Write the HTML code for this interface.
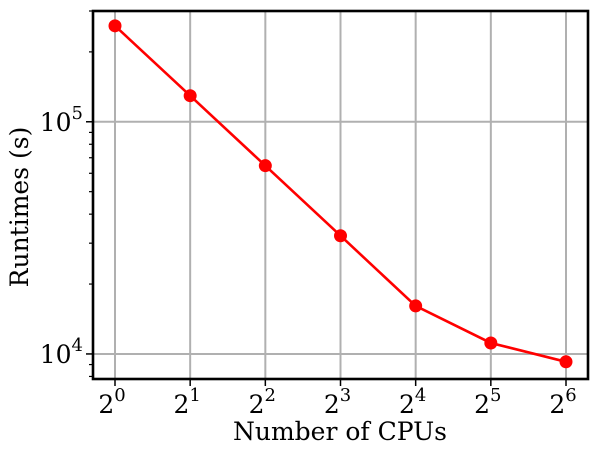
<!DOCTYPE html>
<html><head><meta charset="utf-8"><style>
body{margin:0;background:#fff;}
svg text{font-family:"DejaVu Serif","Liberation Serif",serif;fill:#000;}
</style></head><body>
<svg id="chart" width="598" height="454" xmlns="http://www.w3.org/2000/svg"></svg>
<script>
const exponents=[0,1,2,3,4,5,6];
const runtimes=[259000,129500,64700,32300,16100,11150,9250];
const yTickExps=[4,5];
const NS="http://www.w3.org/2000/svg";
const svg=document.getElementById('chart');
const L=93,R=588,T=11,B=379;
const yMinLog=Math.log10(7800),yMaxLog=Math.log10(300000);
function xs(e){return 115+(566-115)*(e-0)/6;}
function ys(v){return B-(Math.log10(v)-yMinLog)/(yMaxLog-yMinLog)*(B-T);}
function mk(tag,attrs,parent){const el=document.createElementNS(NS,tag);for(const k in attrs)el.setAttribute(k,attrs[k]);(parent||svg).appendChild(el);return el;}
exponents.forEach(e=>{const g=mk('line',{x1:xs(e),x2:xs(e),y1:T,y2:B,stroke:'#b0b0b0','stroke-width':2});

});
yTickExps.forEach(p=>{const y=ys(Math.pow(10,p));const g=mk('line',{x1:L,x2:R,y1:y,y2:y,stroke:'#b0b0b0','stroke-width':2});

});
for(let p=3;p<=5;p++)for(let m=2;m<=9;m++){const v=m*Math.pow(10,p);if(v<7800||v>300000)continue;const y=ys(v);
const t=mk('line',{x1:L-4,x2:L,y1:y,y2:y,stroke:'#000','stroke-width':1.2});

}
yTickExps.forEach(p=>{const y=ys(Math.pow(10,p));mk('line',{x1:L-7,x2:L,y1:y,y2:y,stroke:'#000','stroke-width':1.5});
const tx=mk('text',{x:L-10,y:y+9,'text-anchor':'end','font-size':25});


tx.innerHTML='10<tspan dy="-12" font-size="18">'+p+'</tspan>';});
exponents.forEach(e=>{const x=xs(e);mk('line',{x1:x,x2:x,y1:B,y2:B+7,stroke:'#000','stroke-width':1.5});
const tx=mk('text',{x:x-3,y:B+34,'text-anchor':'middle','font-size':25});


tx.innerHTML='2<tspan dy="-12" font-size="18">'+e+'</tspan>';});
const pts=exponents.map((e,i)=>xs(e)+','+ys(runtimes[i])).join(' ');
const pl=mk('polyline',{points:pts,fill:'none',stroke:'#ff0000','stroke-width':2.6});


exponents.forEach((e,i)=>{const c=mk('circle',{cx:xs(e),cy:ys(runtimes[i]),r:6.5,fill:'#ff0000'});

});
const f=mk('rect',{x:L,y:T,width:R-L,height:B-T,fill:'none',stroke:'#000','stroke-width':2.6});


const xl=mk('text',{x:340,y:440,'text-anchor':'middle','font-size':25});
xl.textContent='Number of CPUs';


const yl=mk('text',{x:0,y:0,'text-anchor':'middle','font-size':25,transform:'translate(28,207) rotate(-90)'});
yl.textContent='Runtimes (s)';


</script>
</body></html>
